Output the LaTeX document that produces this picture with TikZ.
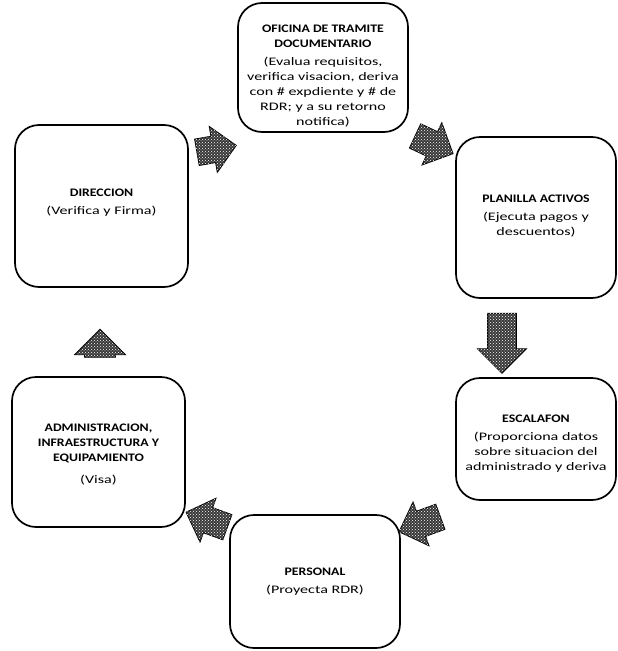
\documentclass[tikz,border=0pt]{standalone}
\usepackage{fontspec}
\setmainfont{Carlito}[FakeStretch=1.4, BoldFeatures={FakeStretch=1.2}]
\usetikzlibrary{shapes.arrows,patterns}

\begin{document}
\begin{tikzpicture}[x=1pt,y=-1pt,
  stagebox/.style={draw=black, line width=1.7pt, rounded corners=24pt,
    inner sep=0pt},
  stagetext/.style={align=center, inner sep=0pt,
    font=\fontsize{11.5}{15}\selectfont},
  flowarrow/.style={single arrow, draw=black, line width=0.8pt,
    fill=black!78, inner xsep=0pt, inner ysep=13pt,
    postaction={pattern=crosshatch dots, pattern color=white},
    single arrow head extend=10pt, single arrow head indent=0pt}
]
\useasboundingbox (0,0) rectangle (618,651);

% frames of the stages
\node[stagebox, minimum width=170pt, minimum height=129pt] (ofi) at (323,67.5) {};
\node[stagebox, minimum width=173pt, minimum height=162pt] (dir) at (101.5,206) {};
\node[stagebox, minimum width=160pt, minimum height=161pt] (pla) at (536,217.5) {};
\node[stagebox, minimum width=160pt, minimum height=122pt] (esc) at (536,439) {};
\node[stagebox, minimum width=173pt, minimum height=150pt] (adm) at (98.5,452) {};
\node[stagebox, minimum width=170pt, minimum height=133pt] (per) at (315,581.5) {};

% what each stage does
\node[stagetext] (ofi-t) at ([yshift=-9pt]ofi.center)
  {\textbf{OFICINA DE TRAMITE}\\ \textbf{DOCUMENTARIO}\\[3pt]
   (Evalua requisitos,\\ verifica visacion, deriva\\ con \# expdiente y \# de\\
   RDR; y a su retorno\\ notifica)};
\node[stagetext] (dir-t) at ([yshift=3pt]dir.center)
  {\textbf{DIRECCION}\\[3pt] (Verifica y Firma)};
\node[stagetext] (pla-t) at ([yshift=1pt]pla.center)
  {\textbf{PLANILLA ACTIVOS}\\[3pt] (Ejecuta pagos y\\ descuentos)};
\node[stagetext] (esc-t) at ([yshift=-5pt]esc.center)
  {\textbf{ESCALAFON}\\[3pt] (Proporciona datos\\ sobre situacion del\\ administrado y deriva};
\node[stagetext] (adm-t) at ([yshift=-3pt]adm.center)
  {\textbf{ADMINISTRACION,}\\ \textbf{INFRAESTRUCTURA Y}\\ \textbf{EQUIPAMIENTO}\\[7pt] (Visa)};
\node[stagetext] (per-t) at (per.center)
  {\textbf{PERSONAL}\\[3pt] (Proyecta RDR)};

% block arrows between consecutive stages
\node[flowarrow, minimum height=40pt, rotate=10] (a1) at (210,150) {};
\node[flowarrow, minimum height=42pt, rotate=-25] (a2) at (428,142) {};
\node[flowarrow, minimum height=60pt, inner ysep=14pt, rotate=-90] (a3) at (502,336) {};
\node[flowarrow, minimum height=44pt, rotate=200] (a4) at (426,522) {};
\node[flowarrow, minimum height=44pt, rotate=160] (a5) at (213,522) {};
\node[flowarrow, minimum height=28pt, inner ysep=15pt, rotate=90] (a6) at (100,351) {};
\end{tikzpicture}
\end{document}
